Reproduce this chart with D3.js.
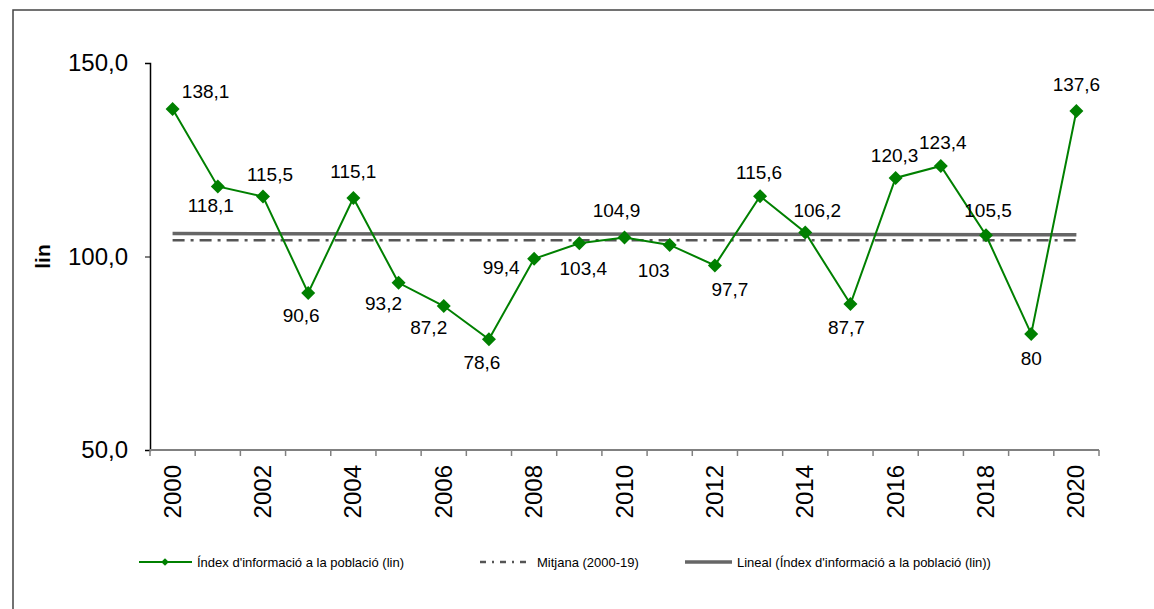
<!DOCTYPE html>
<html>
<head>
<meta charset="utf-8">
<script src="https://cdn.jsdelivr.net/npm/d3@7"></script>
<style>
  body { margin: 0; background: #fff; }
  svg text { font-family: Arial, "Liberation Sans", sans-serif; fill: #000; }
</style>
</head>
<body>
<svg id="chart" width="1154" height="609"></svg>
<script>

let years = d3.range(2000, 2021)
let values = [138.1, 118.1, 115.5, 90.6, 115.1, 93.2, 87.2, 78.6, 99.4, 103.4, 104.9,
              103, 97.7, 115.6, 106.2, 87.7, 120.3, 123.4, 105.5, 80, 137.6]
let labels = ["138,1", "118,1", "115,5", "90,6", "115,1", "93,2", "87,2", "78,6", "99,4", "103,4", "104,9",
              "103", "97,7", "115,6", "106,2", "87,7", "120,3", "123,4", "105,5", "80", "137,6"]
let y_ticks = [50, 100, 150]
let mean_years = [2000, 2019]
let legend_names = ["Índex d'informació a la població (lin)",
                    "Mitjana (2000-19)",
                    "Lineal (Índex d'informació a la població (lin))"]

// label offsets from their point (placement only)
let label_off = [[33,-18],[-7,19],[7,-22],[-7,22],[0,-27],[-15,21],[-15,21],[-7,23],[-33,9],[4,25],[-8,-27],
                 [-16,25],[15,24],[-1,-24],[12,-22],[-4,23],[-1,-23],[2,-24],[2,-25],[0,24],[0,-27]]

let green = "#008000"
let svg = d3.select('#chart')
let margin = {left: 150, right: 55, top: 63, bottom: 159}
let W = 1154, H = 609

// outer frame
svg.append('rect')
    .attr('x', 13).attr('y', 10)
    .attr('width', 1200).attr('height', 700)
    .attr('fill', 'none')
    .attr('stroke', '#444').attr('stroke-width', 1.5)

let x = d3.scaleBand()
    .domain(years)
    .range([margin.left, W - margin.right])

let y = d3.scaleLinear()
    .domain([50, 150])
    .range([H - margin.bottom, margin.top])

let cx = d => x(d) + x.bandwidth() / 2

// y axis
let yAxis = svg.append('g')
    .attr('transform', 'translate(' + margin.left + ',0)')
    .call(d3.axisLeft(y).tickValues(y_ticks).tickSize(5).tickPadding(17)
          .tickFormat(d => d3.format('.1f')(d).replace('.', ',')))
yAxis.select('.domain').attr('stroke', '#000').attr('stroke-width', 1.5)
yAxis.selectAll('.tick line').attr('stroke', '#000')
yAxis.selectAll('text').style('font-size', '24px')

svg.append('text')
    .attr('transform', 'translate(50,' + y(100) + ') rotate(-90)')
    .attr('text-anchor', 'middle')
    .style('font-size', '21px').style('font-weight', 'bold')
    .text('lin')

// x axis: ticks on band edges, labels on even years
let xAxis = svg.append('g')
    .attr('transform', 'translate(0,' + y(50) + ')')
xAxis.append('line')
    .attr('x1', margin.left).attr('x2', W - margin.right)
    .attr('stroke', '#808080').attr('stroke-width', 2)
xAxis.selectAll('.edge')
    .data(years.concat([2021]))
    .enter().append('line')
    .attr('x1', d => d === 2021 ? x(2020) + x.bandwidth() : x(d))
    .attr('x2', d => d === 2021 ? x(2020) + x.bandwidth() : x(d))
    .attr('y1', 0).attr('y2', 6)
    .attr('stroke', '#808080').attr('stroke-width', 1.5)
xAxis.selectAll('.yl')
    .data(years.filter(d => d % 2 === 0))
    .enter().append('text')
    .attr('transform', d => 'translate(' + (cx(d) + 8) + ',15) rotate(-90)')
    .attr('text-anchor', 'end')
    .style('font-size', '24px')
    .text(d => d)

// mean line
let mean = d3.mean(values.filter((v, i) => years[i] >= mean_years[0] && years[i] <= mean_years[1]))
svg.append('line')
    .attr('x1', cx(2000)).attr('x2', cx(2020))
    .attr('y1', y(mean)).attr('y2', y(mean))
    .attr('stroke', '#555').attr('stroke-width', 2.5)
    .attr('stroke-dasharray', '12,6,3,6')

// linear trend
let n = values.length
let mx = d3.mean(d3.range(n)), my = d3.mean(values)
let slope = d3.sum(values, (v, i) => (i - mx) * (v - my)) / d3.sum(d3.range(n), i => (i - mx) * (i - mx))
let icpt = my - slope * mx
svg.append('line')
    .attr('x1', cx(2000)).attr('x2', cx(2020))
    .attr('y1', y(icpt)).attr('y2', y(icpt + slope * (n - 1)))
    .attr('stroke', '#666').attr('stroke-width', 3.5)

// series
let lineFunc = d3.line()
    .x((d, i) => cx(years[i]))
    .y(d => y(d))
svg.append('path')
    .attr('fill', 'none')
    .attr('stroke', green)
    .attr('stroke-width', 2)
    .attr('d', lineFunc(values))

let diamond = d3.symbol().type(d3.symbolSquare).size(98)
svg.selectAll('.pt')
    .data(values)
    .enter().append('path')
    .attr('transform', (d, i) => 'translate(' + cx(years[i]) + ',' + y(d) + ') rotate(45)')
    .attr('d', diamond)
    .attr('fill', green)

svg.selectAll('.lbl')
    .data(values)
    .enter().append('text')
    .attr('x', (d, i) => cx(years[i]) + label_off[i][0])
    .attr('y', (d, i) => y(d) + label_off[i][1])
    .attr('text-anchor', 'middle')
    .attr('dy', '0.35em')
    .style('font-size', '19px')
    .text((d, i) => labels[i])

// legend
let ly = 562
let leg = svg.append('g').style('font-size', '13px')

leg.append('line').attr('x1', 139).attr('x2', 192).attr('y1', ly).attr('y2', ly)
    .attr('stroke', green).attr('stroke-width', 2)
leg.append('path').attr('transform', 'translate(165,' + ly + ') rotate(45)')
    .attr('d', d3.symbol().type(d3.symbolSquare).size(30)).attr('fill', green)
leg.append('text').attr('x', 197).attr('y', ly).attr('dy', '0.35em').text(legend_names[0])

leg.append('line').attr('x1', 480).attr('x2', 530).attr('y1', ly).attr('y2', ly)
    .attr('stroke', '#555').attr('stroke-width', 2.5)
    .attr('stroke-dasharray', '6,6,2,6')
leg.append('text').attr('x', 537).attr('y', ly).attr('dy', '0.35em').text(legend_names[1])

leg.append('line').attr('x1', 685).attr('x2', 732).attr('y1', ly).attr('y2', ly)
    .attr('stroke', '#666').attr('stroke-width', 3.5)
leg.append('text').attr('x', 737).attr('y', ly).attr('dy', '0.35em').text(legend_names[2])

</script>
</body>
</html>
